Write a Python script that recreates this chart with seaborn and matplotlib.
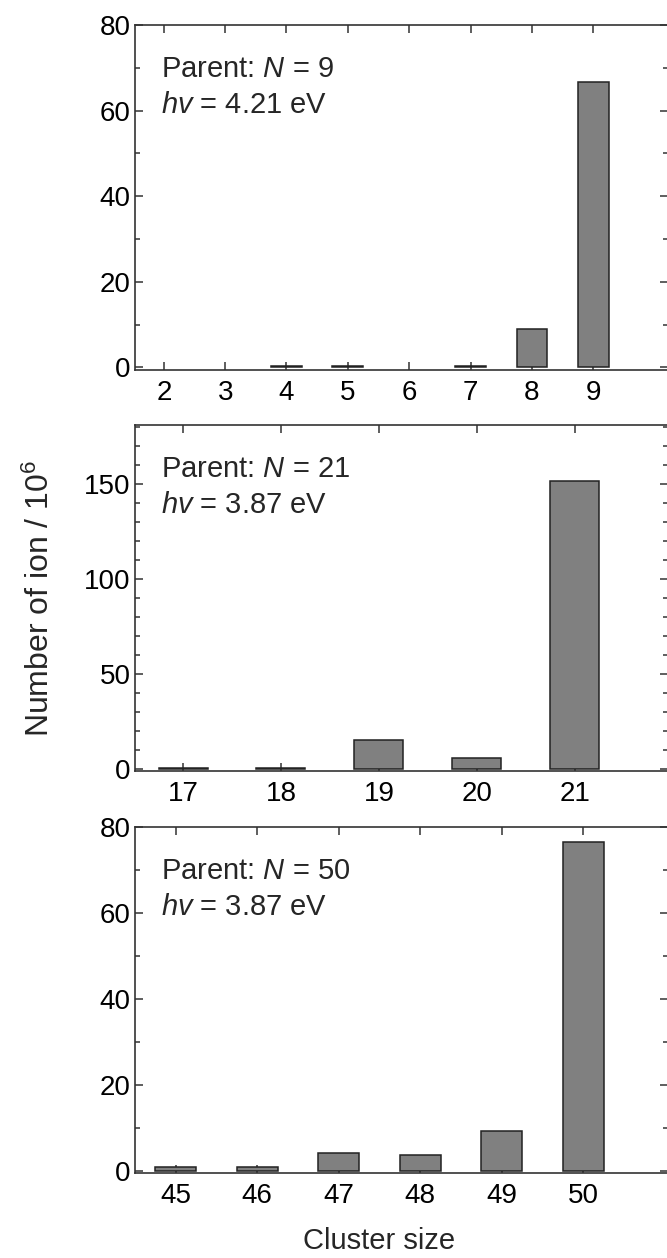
import numpy as np
import pandas as pd
import matplotlib
matplotlib.use("Agg")
import matplotlib.pyplot as plt
from matplotlib.ticker import MultipleLocator
import seaborn as sns

# ---- data ----
sizes_9 = [2, 3, 4, 5, 6, 7, 8, 9]
counts_9 = [0.0, 0.0, 0.3, 0.3, 0.0, 0.3, 9.0, 66.8]
sizes_21 = [17, 18, 19, 20, 21]
counts_21 = [0.5, 0.5, 15.3, 5.5, 151.4]
sizes_50 = [45, 46, 47, 48, 49, 50]
counts_50 = [1.0, 1.0, 4.1, 3.8, 9.3, 76.6]
parent_labels = ["Parent: $N$ = 9", "Parent: $N$ = 21", "Parent: $N$ = 50"]
energy_labels = ["$hv$ = 4.21 eV", "$hv$ = 3.87 eV", "$hv$ = 3.87 eV"]
ylabel = "Number of ion / 10$^{6}$"
xlabel = "Cluster size"

sns.set_style("ticks")
plt.rcParams["font.family"] = ["Liberation Sans", "DejaVu Sans"]
plt.rcParams["mathtext.fontset"] = "custom"
plt.rcParams["mathtext.rm"] = "Liberation Sans"
plt.rcParams["mathtext.it"] = "Liberation Sans:italic"
plt.rcParams["mathtext.bf"] = "Liberation Sans:bold"

W, H = 667, 1258
fig = plt.figure(figsize=(W / 100, H / 100), dpi=100)

spine_c = "#333333"
panels = [
    dict(x=sizes_9, y=counts_9, top=25, bot=370, xlim=(1.53, 10.22), ylim=(-0.6, 80),
         major=20, minor=10),
    dict(x=sizes_21, y=counts_21, top=425, bot=771, xlim=(16.51, 21.95), ylim=(-1.1, 181),
         major=50, minor=10),
    dict(x=sizes_50, y=counts_50, top=827, bot=1173, xlim=(44.50, 51.04), ylim=(-0.5, 80),
         major=20, minor=10),
]
left_px, right_px = 135, 668

for i, p in enumerate(panels):
    ax = fig.add_axes([left_px / W, 1 - p["bot"] / H, (right_px - left_px) / W,
                       (p["bot"] - p["top"]) / H])
    df = pd.DataFrame({"size": p["x"], "count": p["y"]})
    sns.barplot(data=df, x="size", y="count", native_scale=True, width=0.5,
                color="#808080", saturation=1, edgecolor="#222222", linewidth=1.1,
                ax=ax, zorder=2)
    for patch in ax.patches:
        if patch.get_height() == 0:
            patch.set_linewidth(0)
    ax.set_xlim(*p["xlim"])
    ax.set_ylim(*p["ylim"])
    ax.set_xticks(p["x"])
    ax.set_xticklabels([str(v) for v in p["x"]])
    ax.yaxis.set_major_locator(MultipleLocator(p["major"]))
    ax.yaxis.set_minor_locator(MultipleLocator(p["minor"]))
    ax.set_xlabel("")
    ax.set_ylabel("")
    for s in ax.spines.values():
        s.set_visible(True)
        s.set_color(spine_c)
        s.set_linewidth(1.2)
    ax.tick_params(axis="both", which="major", direction="in", length=5.8, width=1.1,
                   color=spine_c, labelsize=20, labelcolor="black",
                   top=True, right=True)
    ax.tick_params(axis="x", which="major", pad=7)
    ax.tick_params(axis="y", which="major", pad=3)
    ax.tick_params(axis="y", which="minor", direction="in", length=3.6, width=1.1,
                   color=spine_c, right=True, left=True)
    ax.tick_params(axis="x", which="minor", bottom=False, top=False)
    ax.annotate(parent_labels[i], xy=(0, 1), xycoords="axes fraction",
                xytext=(26, -52), textcoords="offset pixels", fontsize=21,
                va="baseline", ha="left")
    ax.annotate(energy_labels[i], xy=(0, 1), xycoords="axes fraction",
                xytext=(26, -88), textcoords="offset pixels", fontsize=21,
                va="baseline", ha="left")

fig.text(40 / W, 1 - 598 / H, ylabel, rotation=90, fontsize=23,
         ha="center", va="center")
fig.text(379 / W, 1 - 1241 / H, xlabel, fontsize=21, ha="center", va="center")

fig.savefig("out.png", dpi=100)
